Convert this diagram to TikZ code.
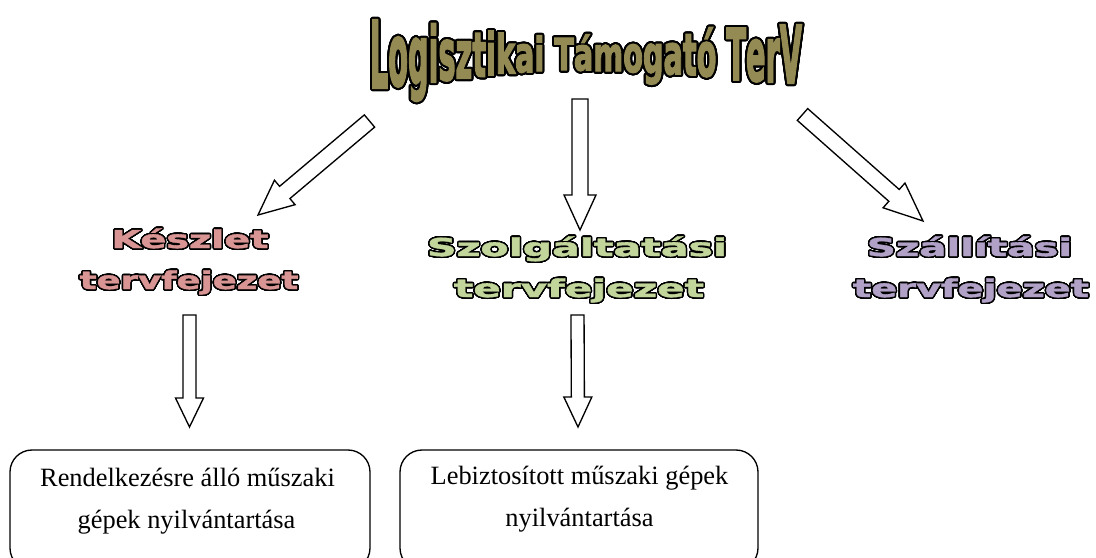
\documentclass[tikz,border=0pt]{standalone}
\usepackage{fontspec}
\usepackage{graphicx}
\usepackage{contour}
\usetikzlibrary{calc}
\setmainfont{Liberation Serif}
\newfontfamily\headfont{DejaVu Sans}[BoldFeatures={FakeBold=1.5}]
\newfontfamily\titlefont{DejaVu Sans}[BoldFeatures={FakeBold=3}]

\definecolor{titlefill}{HTML}{948A54}
\definecolor{keszletfill}{HTML}{D99594}
\definecolor{szolgfill}{HTML}{C2D69B}
\definecolor{szallfill}{HTML}{B2A1C7}

\contournumber{32}

% outlined text: black contour, fill colour on top
\newcommand\outlined[3]{%
  {\contourlength{#1}\color{#2}\contour{black}{#3}}}

% stretch a text horizontally to a given width, keeping its height
\protected\def\hstretch#1#2{\resizebox{#1}{\height}{#2}}

% one letter of the warped title, squeezed vertically about the cap midline
\newlength\titlemid
\setlength\titlemid{25.5pt}
\newcommand\wl[2]{%
  \pgfmathsetlengthmacro\wlr{(1-#1)*\titlemid}%
  \raisebox{\wlr}{\scalebox{1}[#1]{#2}}}

\newcommand\titletext{%
  \wl{.99}{L}\wl{.93}{o}\wl{.87}{g}\wl{.82}{i}\wl{.76}{s}\wl{.71}{z}%
  \wl{.66}{t}\wl{.62}{i}\wl{.57}{k}\wl{.53}{a}\wl{.50}{i}%
  \hspace{.35em}%
  \wl{.47}{T}\wl{.48}{á}\wl{.50}{m}\wl{.53}{o}\wl{.56}{g}\wl{.59}{a}%
  \wl{.62}{t}\wl{.65}{ó}%
  \hspace{.35em}%
  \wl{.76}{T}\wl{.79}{e}\wl{.82}{r}\wl{.85}{V}}
\protected\def\titleword{\resizebox{324pt}{\height}{%
  \titlefont\bfseries\fontsize{70}{70}\selectfont\titletext}}

% hollow block arrow from a tail coordinate to a tip coordinate
% #3 shaft half width, #4 head half width, #5 head length
\newcommand\blockarrow[5]{%
  \coordinate (#2-base) at ($(#2)!#5!(#1)$);
  \draw[blockarrow]
    ($(#1)!#3!90:(#2)$) -- ($(#2-base)!#3!-90:(#1)$) --
    ($(#2-base)!#4!-90:(#1)$) -- (#2) --
    ($(#2-base)!#4!90:(#1)$) -- ($(#2-base)!#3!90:(#1)$) --
    ($(#1)!#3!-90:(#2)$) -- cycle;}

\tikzset{
  blockarrow/.style={draw=black, fill=white, line width=1pt, line join=miter},
  headline/.style={anchor=base, inner sep=0pt,
    font=\headfont\bfseries\fontsize{18.5}{18.5}\selectfont},
  boxtext/.style={anchor=base, inner sep=0pt,
    font=\fontsize{19.8}{19.8}\selectfont},
  roundbox/.style={draw=black, line width=1pt, rounded corners=16.5pt,
    inner sep=0pt},
}

\begin{document}
\begin{tikzpicture}[x=0.75pt, y=-0.75pt]
  \useasboundingbox (0,0) rectangle (1096,557);
  \clip (0,0) rectangle (1096,557);

  % title
  \node[anchor=base, inner sep=0pt] (title) at (586,88)
    {\outlined{1.5pt}{titlefill}{\titleword}};

  % chapter headings
  \node[headline] (kesz1) at (190,248)
    {\outlined{1.1pt}{keszletfill}{\hstretch{117.75pt}{Készlet}}};
  \node[headline] (kesz2) at (189,289)
    {\outlined{1.1pt}{keszletfill}{\hstretch{164pt}{tervfejezet}}};
  \node[headline] (szolg1) at (577,256)
    {\outlined{1.1pt}{szolgfill}{\hstretch{225pt}{Szolgáltatási}}};
  \node[headline] (szolg2) at (579,297)
    {\outlined{1.1pt}{szolgfill}{\hstretch{187.5pt}{tervfejezet}}};
  \node[headline] (szall1) at (969.5,256)
    {\outlined{1.1pt}{szallfill}{\hstretch{154pt}{Szállítási}}};
  \node[headline] (szall2) at (971,297)
    {\outlined{1.1pt}{szallfill}{\hstretch{177pt}{tervfejezet}}};

  % record boxes
  \node[roundbox, minimum width=270pt, minimum height=90pt] (box1) at (190,510) {};
  \node[roundbox, minimum width=268.5pt, minimum height=90pt] (box2) at (579,510) {};
  \node[boxtext] (box1a) at (187.5,486) {Rendelkezésre álló műszaki};
  \node[boxtext] (box1b) at (186.5,528) {gépek nyilvántartása};
  \node[boxtext] (box2a) at (579.5,484) {Lebiztosított műszaki gépek};
  \node[boxtext] (box2b) at (579.5,526) {nyilvántartása};

  % block arrows
  \coordinate (aLtail) at (369.5,121);
  \coordinate (aLtip)  at (258,215);
  \coordinate (aMtail) at (580,99);
  \coordinate (aMtip)  at (580,230);
  \coordinate (aRtail) at (802.5,114.5);
  \coordinate (aRtip)  at (923,221);
  \coordinate (bLtail) at (189.5,315);
  \coordinate (bLtip)  at (189.5,427);
  \coordinate (bMtail) at (577.5,315);
  \coordinate (bMtip)  at (578,427);
  \blockarrow{aLtail}{aLtip}{6pt}{12pt}{26.25pt}
  \blockarrow{aMtail}{aMtip}{6pt}{12pt}{26.25pt}
  \blockarrow{aRtail}{aRtip}{5.9pt}{12.4pt}{29pt}
  \blockarrow{bLtail}{bLtip}{4.9pt}{10.5pt}{21.75pt}
  \blockarrow{bMtail}{bMtip}{4.9pt}{10.5pt}{22.5pt}
\end{tikzpicture}
\end{document}
